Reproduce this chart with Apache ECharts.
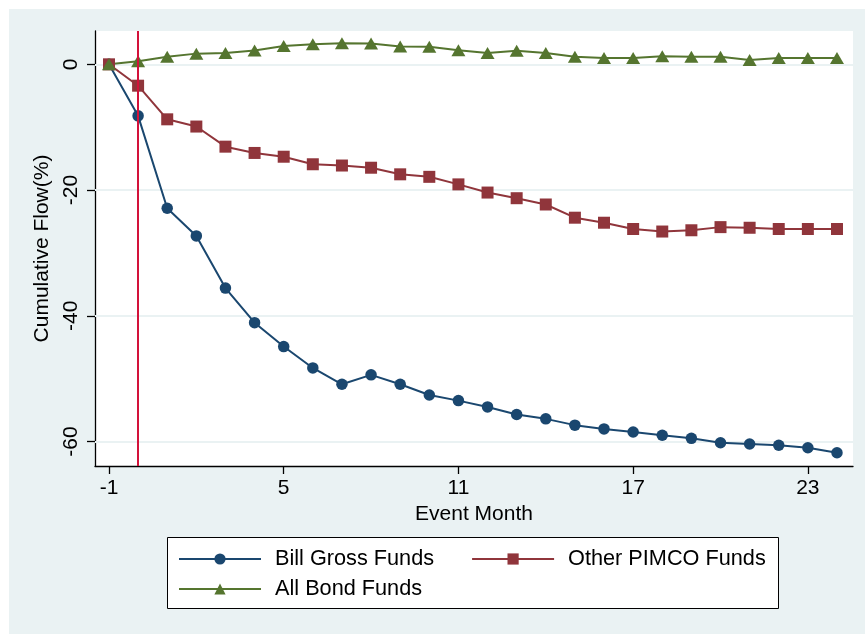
<!DOCTYPE html>
<html>
<head>
<meta charset="utf-8">
<script src="https://cdn.jsdelivr.net/npm/echarts@6/dist/echarts.min.js"></script>
<style>
  html, body { margin: 0; padding: 0; background: #ffffff; overflow: hidden; }
  #chart { width: 865px; height: 634px; }
</style>
</head>
<body>
<div id="chart"></div>
<script>
// Event months relative to the announcement
const months = [-1, 0, 1, 2, 3, 4, 5, 6, 7, 8, 9, 10, 11, 12, 13, 14, 15, 16, 17, 18, 19, 20, 21, 22, 23, 24];

// Cumulative flows (%) by fund group
const billGross = [0, -8.2, -22.9, -27.3, -35.6, -41.1, -44.9, -48.3, -50.9, -49.4, -50.9, -52.6, -53.5, -54.5, -55.7, -56.4, -57.4, -58.0, -58.5, -59.0, -59.5, -60.2, -60.4, -60.6, -61.0, -61.8];
const otherPimco = [0, -3.4, -8.75, -9.9, -13.1, -14.1, -14.7, -15.9, -16.1, -16.45, -17.5, -17.9, -19.1, -20.4, -21.3, -22.3, -24.4, -25.2, -26.2, -26.6, -26.4, -25.9, -26.0, -26.2, -26.2, -26.2];
const allBond = [0, 0.5, 1.2, 1.7, 1.8, 2.2, 2.9, 3.2, 3.35, 3.3, 2.85, 2.8, 2.25, 1.8, 2.15, 1.8, 1.2, 1.0, 1.0, 1.3, 1.2, 1.2, 0.7, 1.0, 1.0, 1.0];

// Tick labels
const xTicks = [-1, 5, 11, 17, 23];
const yTicks = [0, -20, -40, -60];

// Event date marker
const eventMonth = 0;

const seriesNames = ['Bill Gross Funds', 'Other PIMCO Funds', 'All Bond Funds'];

const FONT = '"Liberation Sans", Arial, Helvetica, sans-serif';
const NAVY = '#1a476f';
const MAROON = '#90353b';
const GREEN = '#55752f';
const BG = '#eaf2f3';

const pairs = (ys) => months.map((m, i) => [m, ys[i]]);

const chart = echarts.init(document.getElementById('chart'), null, { renderer: 'canvas' });

chart.setOption({
  backgroundColor: BG,
  animation: false,
  textStyle: { fontFamily: FONT },
  graphic: [
    { type: 'rect', shape: { x: 0, y: 0, width: 865, height: 9 }, style: { fill: '#ffffff' }, silent: true },
    { type: 'rect', shape: { x: 0, y: 0, width: 9, height: 634 }, style: { fill: '#ffffff' }, silent: true },
    { type: 'rect', shape: { x: 167.5, y: 537.5, width: 611, height: 71 },
      style: { fill: '#ffffff', stroke: '#000000', lineWidth: 1 }, silent: true }
  ],
  grid: {
    left: 95, top: 31, right: 12, bottom: 168,
    show: true, backgroundColor: '#ffffff', borderWidth: 0
  },
  xAxis: {
    type: 'value',
    min: -1.48, max: 24.55,
    name: 'Event Month',
    nameLocation: 'middle',
    nameGap: 36,
    nameTextStyle: { fontFamily: FONT, fontSize: 21, color: '#000' },
    axisLine: { show: true, onZero: false, lineStyle: { color: '#000', width: 1.3 } },
    axisTick: { show: true, length: 8, customValues: xTicks, lineStyle: { color: '#000', width: 1.3 } },
    axisLabel: { customValues: xTicks, fontSize: 21, color: '#000', margin: 12, fontFamily: FONT },
    splitLine: { show: false }
  },
  yAxis: {
    type: 'value',
    min: -63.9, max: 5.3,
    name: 'Cumulative Flow(%)',
    nameLocation: 'middle',
    nameRotate: 90,
    nameGap: 42,
    nameTextStyle: { fontFamily: FONT, fontSize: 21, color: '#000' },
    axisLine: { show: true, onZero: false, lineStyle: { color: '#000', width: 1.3 } },
    axisTick: { show: true, length: 8, customValues: yTicks, lineStyle: { color: '#000', width: 1.3 } },
    axisLabel: { customValues: yTicks, rotate: 90, fontSize: 21, color: '#000', margin: 13, fontFamily: FONT },
    splitLine: { show: false }
  },
  legend: [
    {
      data: [seriesNames[0], seriesNames[1]],
      left: 178, top: 548,
      padding: 0,
      orient: 'horizontal',
      itemWidth: 82, itemHeight: 14, itemGap: 37,
      textStyle: { fontFamily: FONT, fontSize: 21.7, color: '#000', padding: [0, 0, 0, 9] }
    },
    {
      data: [seriesNames[2]],
      left: 178, top: 578,
      padding: 0,
      itemWidth: 82, itemHeight: 14,
      textStyle: { fontFamily: FONT, fontSize: 21.7, color: '#000', padding: [0, 0, 0, 9] }
    }
  ],
  series: [
    {
      // horizontal reference lines at the labelled values
      type: 'line', name: '_grid', data: [], z: 1, silent: true,
      markLine: {
        z: 1, silent: true, symbol: ['none', 'none'],
        label: { show: false },
        lineStyle: { color: BG, width: 2, type: 'solid' },
        data: yTicks.map(v => ({ yAxis: v }))
      }
    },
    {
      name: seriesNames[0], type: 'line', data: pairs(billGross),
      symbol: 'circle', symbolSize: 11.5,
      lineStyle: { color: NAVY, width: 2 },
      itemStyle: { color: NAVY },
      markLine: {
        silent: true, symbol: ['none', 'none'],
        label: { show: false },
        lineStyle: { color: '#d3123a', width: 2, type: 'solid' },
        data: [{ xAxis: eventMonth }]
      }
    },
    {
      name: seriesNames[1], type: 'line', data: pairs(otherPimco),
      symbol: 'rect', symbolSize: 12,
      lineStyle: { color: MAROON, width: 2 },
      itemStyle: { color: MAROON }
    },
    {
      name: seriesNames[2], type: 'line', data: pairs(allBond),
      symbol: 'triangle', symbolSize: [14, 12],
      lineStyle: { color: GREEN, width: 2 },
      itemStyle: { color: GREEN }
    }
  ]
});
</script>
</body>
</html>
